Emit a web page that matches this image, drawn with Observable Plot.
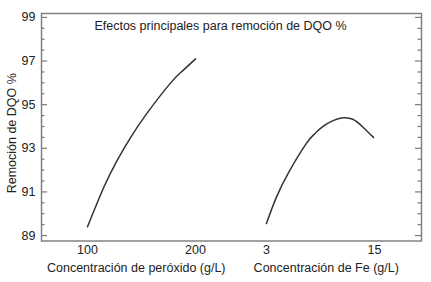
<!DOCTYPE html>
<html><head><meta charset="utf-8">
<script src="https://cdn.jsdelivr.net/npm/d3@7"></script>
<script src="https://cdn.jsdelivr.net/npm/@observablehq/plot@0.6"></script>
<style>body{margin:0;background:#fff} svg{display:block}</style>
</head><body><div id="chart"></div>
<script>
// ---- data ----
const chartTitle = "Efectos principales para remoción de DQO %";
const yLabel = "Remoción de DQO %";
const peroxideTitle = "Concentración de peróxido (g/L)";
const feTitle = "Concentración de Fe (g/L)";

const peroxideLevels  = [100, 115, 127.5, 140, 155, 177, 188, 200];
const peroxideRemoval = [89.4, 91.2, 92.45, 93.5, 94.6, 96.0, 96.55, 97.1];

const feLevels  = [3, 4.1, 5.55, 7.4, 8.3, 9.25, 10.4, 11.5, 12.6, 13.7, 14.9];
const feRemoval = [89.55, 90.75, 91.95, 93.2, 93.64, 93.99, 94.27, 94.4, 94.33, 93.98, 93.5];

const peroxideTicks = [100, 200];
const feTicks = [3, 15];
const yTicks = [89, 91, 93, 95, 97, 99];

// ---- layout of the two side-by-side panels on one shared x axis ----
const peroxideRange = [100, 200];
const feRange = [3, 15];
const feOffset = 1.657;            // where the Fe panel begins, in panel units
const xDomain = [-0.426, 3.093];
const yDomain = [88.75, 99.18];

const uPer = v => (v - peroxideRange[0]) / (peroxideRange[1] - peroxideRange[0]);
const uFe  = v => feOffset + (v - feRange[0]) / (feRange[1] - feRange[0]);

const peroxideData = peroxideLevels.map((l, i) => ({u: uPer(l), removal: peroxideRemoval[i]}));
const feData = feLevels.map((l, i) => ({u: uFe(l), removal: feRemoval[i]}));
const xTickData = [
  ...peroxideTicks.map(t => ({u: uPer(t), label: String(t)})),
  ...feTicks.map(t => ({u: uFe(t), label: String(t)}))
];
const gapMid = (uPer(peroxideRange[1]) + feOffset) / 2;
const titleData = [
  {u: (xDomain[0] + gapMid) / 2, label: peroxideTitle},
  {u: (gapMid + xDomain[1]) / 2, label: feTitle}
];
const yMinor = d3.range(yTicks[0], yTicks[yTicks.length - 1] + 0.01, 0.5).filter(v => !yTicks.includes(v));

const W = 431, H = 282, mL = 41, mR = 10, mT = 13, mB = 41.5;
const frameW = W - mL - mR;
const font = "'Liberation Sans', Arial, Helvetica, sans-serif";
const axisColor = "#7a7a7a";
const textColor = "#222";

const chart = Plot.plot({
  width: W, height: H,
  marginLeft: mL, marginRight: mR, marginTop: mT, marginBottom: mB,
  style: {fontFamily: font, fontSize: "12.5px", background: "#fff", overflow: "visible"},
  x: {domain: xDomain, axis: null},
  y: {domain: yDomain, axis: null},
  marks: [
    // inward tick marks, left and right
    Plot.tickY(yTicks, {y: d => d, insetRight: frameW - 6, stroke: axisColor, strokeWidth: 1.2}),
    Plot.tickY(yTicks, {y: d => d, insetLeft: frameW - 6, stroke: axisColor, strokeWidth: 1.2}),
    Plot.tickY(yMinor, {y: d => d, insetRight: frameW - 3.5, stroke: axisColor, strokeWidth: 1.2}),
    Plot.tickY(yMinor, {y: d => d, insetLeft: frameW - 3.5, stroke: axisColor, strokeWidth: 1.2}),
    Plot.frame({stroke: axisColor, strokeWidth: 1.4}),
    Plot.axisY(yTicks, {tickSize: 0, tickPadding: 6, fontSize: 12.5, fill: textColor, label: null}),
    // x tick labels
    Plot.text(xTickData, {x: "u", text: "label", frameAnchor: "bottom", lineAnchor: "top", dy: 4.5, fontSize: 12.5, fill: textColor}),
    // factor titles
    Plot.text(titleData, {x: "u", text: "label", frameAnchor: "bottom", lineAnchor: "top", dy: 22.5, fontSize: 12.5, fill: textColor}),
    // y label
    Plot.text([yLabel], {frameAnchor: "left", rotate: -90, dx: -26, dy: 6, lineAnchor: "bottom", textAnchor: "middle", fontSize: 12.5, fill: textColor}),
    // chart title
    Plot.text([chartTitle], {frameAnchor: "top", dx: 220 - (mL + frameW / 2), dy: 7.7, lineAnchor: "top", fontSize: 12.5, fill: textColor}),
    // main effect curves
    Plot.line(peroxideData, {x: "u", y: "removal", curve: "natural", stroke: "#333", strokeWidth: 1.5}),
    Plot.line(feData, {x: "u", y: "removal", curve: "natural", stroke: "#333", strokeWidth: 1.5})
  ]
});
document.getElementById("chart").appendChild(chart);
</script>
</body></html>
